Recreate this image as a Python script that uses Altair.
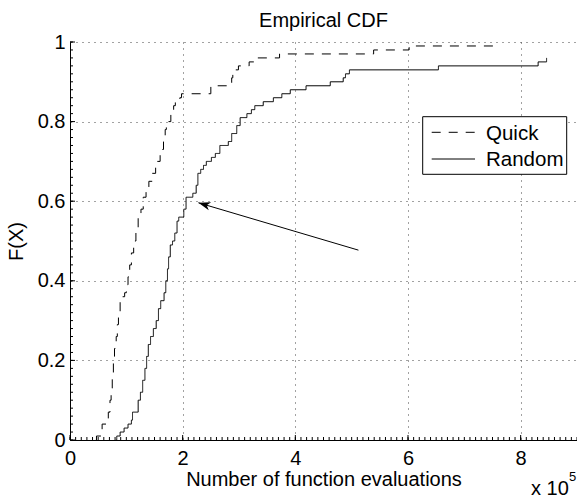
import math
import altair as alt
import pandas as pd

# ---------------- data (x in units of 1e5 function evaluations) ----------------
quick_x = [0.46, 0.47, 0.57, 0.64, 0.68, 0.71, 0.73, 0.75, 0.77, 0.79, 0.82, 0.84,
           0.86, 0.89, 0.93, 0.97, 1.00, 1.03, 1.06, 1.09, 1.13, 1.17, 1.21, 1.26,
           1.30, 1.35, 1.40, 1.46, 1.52, 1.60, 1.66, 1.69, 1.71, 1.79, 1.84, 1.87,
           1.95, 1.98, 2.50, 2.87, 2.89, 2.99, 3.18, 3.31, 3.72, 5.39, 6.02, 7.60]
quick_F = [0.00, 0.01, 0.04, 0.05, 0.07, 0.10, 0.13, 0.16, 0.20, 0.23, 0.26, 0.29,
           0.32, 0.35, 0.36, 0.37, 0.39, 0.41, 0.44, 0.47, 0.50, 0.53, 0.56, 0.58,
           0.61, 0.63, 0.65, 0.67, 0.70, 0.73, 0.75, 0.78, 0.80, 0.82, 0.84, 0.85,
           0.86, 0.87, 0.89, 0.91, 0.93, 0.94, 0.95, 0.96, 0.97, 0.98, 0.99, 0.99]

random_x = [0.82, 0.83, 0.89, 0.96, 1.03, 1.09, 1.11, 1.21, 1.25, 1.29, 1.33, 1.36,
            1.39, 1.43, 1.48, 1.53, 1.57, 1.61, 1.67, 1.70, 1.73, 1.75, 1.78, 1.82,
            1.86, 1.90, 1.93, 2.02, 2.06, 2.18, 2.24, 2.27, 2.32, 2.37, 2.42, 2.51,
            2.58, 2.66, 2.81, 2.87, 2.96, 3.02, 3.14, 3.22, 3.28, 3.43, 3.61, 3.76,
            3.91, 4.19, 4.62, 4.85, 4.89, 4.96, 6.54, 8.31, 8.46]
random_F = [0.00, 0.01, 0.02, 0.03, 0.04, 0.05, 0.07, 0.10, 0.12, 0.15, 0.18, 0.21,
            0.24, 0.26, 0.28, 0.30, 0.33, 0.35, 0.37, 0.40, 0.43, 0.46, 0.49, 0.50,
            0.52, 0.55, 0.56, 0.58, 0.61, 0.62, 0.64, 0.67, 0.68, 0.69, 0.70, 0.71,
            0.72, 0.74, 0.75, 0.77, 0.79, 0.81, 0.82, 0.83, 0.84, 0.85, 0.86, 0.87,
            0.88, 0.89, 0.90, 0.91, 0.92, 0.93, 0.94, 0.95, 0.96]

series_names = ["Quick", "Random"]

arrow_x = [5.12, 2.28]     # tail, tip
arrow_F = [0.477, 0.596]

x_tick_values = [0, 2, 4, 6, 8]
y_tick_values = [0, 0.2, 0.4, 0.6, 0.8, 1]
x_minor_values = [round(0.1 * i, 1) for i in range(91)]
y_minor_values = [round(0.02 * i, 2) for i in range(51)]

title_text = "Empirical CDF"
x_title = "Number of function evaluations"
y_title = "F(X)"
exp_base = "x 10"
exp_power = "5"

# ---------------- layout ----------------
X_MAX = 9
W, H = 507, 398
FONT = "Liberation Sans"
FS = 20
LFS = 20.5
DASH = [9, 8]

df = pd.concat([
    pd.DataFrame({"x": quick_x, "F": quick_F, "series": series_names[0]}),
    pd.DataFrame({"x": random_x, "F": random_F, "series": series_names[1]}),
], ignore_index=True)

xs = alt.Scale(domain=[0, X_MAX], nice=False, zero=False)
ys = alt.Scale(domain=[0, 1], nice=False)

x_axis = alt.Axis(values=x_tick_values, title=x_title, titleFont=FONT, titleFontSize=FS,
                  titleFontWeight="normal", titleColor="black", titleY=45,
                  titleBaseline="alphabetic", labelFont=FONT, labelFontSize=FS,
                  labelColor="black", labelPadding=8, labelFlush=False, ticks=False,
                  domainColor="black", domainWidth=1, grid=True, gridDash=[1, 5],
                  gridColor="#444", gridWidth=1, format="~g")
y_axis = alt.Axis(values=y_tick_values, title=y_title, titleFont=FONT, titleFontSize=FS,
                  titleFontWeight="normal", titleColor="black", titleX=-48, titleY=H / 2,
                  titleAngle=270, titleAlign="center", titleBaseline="alphabetic",
                  labelFont=FONT, labelFontSize=FS, labelColor="black", labelPadding=5,
                  labelFlush=False, ticks=False, domainColor="black", domainWidth=1,
                  grid=True, gridDash=[1, 5], gridColor="#444", gridWidth=1, format="~g")

X = lambda f: alt.X(f, scale=xs, axis=x_axis, title=x_title)
Y = lambda f: alt.Y(f, scale=ys, axis=y_axis, title=y_title)

curves = alt.Chart(df).mark_line(interpolate="step-after", strokeWidth=1, color="black").encode(
    x=X("x:Q"),
    y=Y("F:Q"),
    strokeDash=alt.StrokeDash("series:N", scale=alt.Scale(domain=series_names, range=[DASH, [1, 0]]),
                              legend=None),
)

def xticks(values, length):
    return alt.Chart(pd.DataFrame({"x": values})).mark_rule(color="black", strokeWidth=1).encode(
        x=X("x:Q"), y=alt.value(H), y2=alt.value(H - length))

def yticks(values, length):
    return alt.Chart(pd.DataFrame({"F": values})).mark_rule(color="black", strokeWidth=1).encode(
        y=Y("F:Q"), x=alt.value(0), x2=alt.value(length))

# arrow
arrow_df = pd.DataFrame({"x": [arrow_x[0]], "x2": [arrow_x[1]], "F": [arrow_F[0]], "F2": [arrow_F[1]]})
arrow_line = alt.Chart(arrow_df).mark_rule(color="black", strokeWidth=1).encode(
    x=X("x:Q"), x2="x2:Q", y=Y("F:Q"), y2="F2:Q")
dx_px = (arrow_x[1] - arrow_x[0]) * W / X_MAX
dy_px = -(arrow_F[1] - arrow_F[0]) * H
angle = math.degrees(math.atan2(dx_px, -dy_px)) % 360
head_path = "M0,0 L0.35,1 L0,0.72 L-0.35,1 Z"
arrow_head = alt.Chart(arrow_df).mark_point(shape=head_path, filled=True, size=576, angle=angle,
                                            color="black", opacity=1, strokeWidth=0).encode(
    x=X("x2:Q"), y=Y("F2:Q"))

one = alt.Data(values=[{"a": 1}])

legend_box = alt.Chart(one).mark_rect(fill="white", stroke="black", strokeWidth=1).encode(
    x=alt.value(352.7), x2=alt.value(496.7), y=alt.value(74.7), y2=alt.value(132.3))
legend_dash = alt.Chart(one).mark_rule(color="black", strokeWidth=1, strokeDash=DASH).encode(
    x=alt.value(361.7), x2=alt.value(405), y=alt.value(90.3))
legend_solid = alt.Chart(one).mark_rule(color="black", strokeWidth=1).encode(
    x=alt.value(361.7), x2=alt.value(405), y=alt.value(117))

def label(txt, x, y, size=FS, align="left"):
    return alt.Chart(one).mark_text(align=align, baseline="alphabetic", font=FONT, fontSize=size,
                                    color="black").encode(
        x=alt.value(x), y=alt.value(y), text=alt.value(txt))

chart = alt.layer(
    curves,
    xticks(x_minor_values, 3), xticks(x_tick_values, 5),
    yticks(y_minor_values, 3), yticks(y_tick_values, 5),
    arrow_line, arrow_head,
    legend_box, legend_dash, legend_solid,
    label(series_names[0], 416, 98, size=LFS), label(series_names[1], 416, 123.7, size=LFS),
    label(title_text, W / 2, -15.3, align="center"),
    label(exp_base, 461, 453), label(exp_power, 499, 439, size=13),
).properties(
    width=W, height=H,
    padding={"left": 70, "top": 42, "right": 0, "bottom": 59},
    autosize=alt.AutoSizeParams(type="none"),
    background="white",
).configure_view(stroke=None)

chart.save("out.html", embed_options={"renderer": "svg", "actions": False})
